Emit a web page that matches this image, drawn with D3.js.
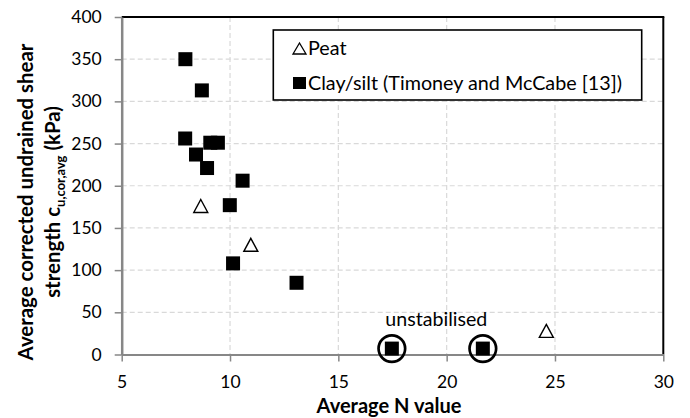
<!DOCTYPE html>
<html>
<head>
<meta charset="utf-8">
<script src="https://cdn.jsdelivr.net/npm/d3@7"></script>
<style>
  html, body { margin: 0; padding: 0; background: #fff; }
  svg { display: block; font-family: Lato, "Liberation Sans", Arial, sans-serif; }
</style>
</head>
<body>
<svg id="chart" width="690" height="418"></svg>
<script>
// ---- data ----
const clayX = [7.94, 8.70, 7.93, 9.09, 9.44, 8.43, 8.94, 10.58, 9.99, 10.14, 13.07, 17.47, 21.67];
const clayY = [350, 313, 256, 251, 251, 237, 221, 206, 177, 108, 85, 7, 7];
const peatX = [8.65, 10.96, 24.6];
const peatY = [176, 130, 28];
const unstabX = [17.47, 21.67];
const unstabY = [7, 7];
const xTicks = [5, 10, 15, 20, 25, 30];
const yTicks = [0, 50, 100, 150, 200, 250, 300, 350, 400];
const seriesNames = ["Peat", "Clay/silt (Timoney and McCabe [13])"];
const annotation = "unstabilised";
const xTitle = "Average N value";
const yTitle1 = "Average corrected undrained shear";

// ---- layout ----
const L = 121.7, R = 663.3, T = 17, B = 354.5;
const svg = d3.select("#chart");
const x = d3.scaleLinear().domain([5, 30]).range([L, R]);
const y = d3.scaleLinear().domain([0, 400]).range([B, T]);
const axisGray = "#878787";

function fit(sel, target) {
  const w = sel.node().getComputedTextLength();
  const fs = parseFloat(sel.attr("font-size") || 16);
  sel.attr("font-size", (fs * target / w).toFixed(2));
}

// gridlines
const grid = svg.append("g");
grid.selectAll("line.v").data(xTicks.filter(t => t > 5 && t < 30)).enter().append("line")
  .attr("x1", d => x(d)).attr("x2", d => x(d)).attr("y1", T).attr("y2", B)
  .attr("stroke", "#d9d9d9").attr("stroke-width", 1.2).attr("stroke-dasharray", "5,3");
grid.selectAll("line.h").data(yTicks.filter(t => t > 0 && t < 400)).enter().append("line")
  .attr("x1", L).attr("x2", R).attr("y1", d => y(d)).attr("y2", d => y(d))
  .attr("stroke", "#d9d9d9").attr("stroke-width", 1.2).attr("stroke-dasharray", "5,3");

// top & right border (black)
svg.append("line").attr("x1", L).attr("x2", R + 1).attr("y1", T).attr("y2", T)
  .attr("stroke", "#000").attr("stroke-width", 2);
svg.append("line").attr("x1", R).attr("x2", R).attr("y1", T).attr("y2", B)
  .attr("stroke", "#000").attr("stroke-width", 2);

// axes
const yAxis = svg.append("g").attr("transform", `translate(${L},0)`)
  .call(d3.axisLeft(y).tickValues(yTicks).tickSize(7).tickSizeOuter(0).tickPadding(13));
const xAxis = svg.append("g").attr("transform", `translate(0,${B})`)
  .call(d3.axisBottom(x).tickValues(xTicks).tickSize(7).tickSizeOuter(0).tickPadding(14));
yAxis.select(".domain").attr("stroke", axisGray).attr("stroke-width", 2.5);
xAxis.select(".domain").attr("stroke", axisGray).attr("stroke-width", 2);
svg.selectAll(".tick line").attr("stroke", axisGray).attr("stroke-width", 1.5);
svg.selectAll(".tick text").attr("font-family", "Lato, 'Liberation Sans', sans-serif")
  .attr("font-size", 17.5).attr("fill", "#000");

// markers
const sq = 14;
svg.append("g").selectAll("rect").data(clayX.map((v, i) => [v, clayY[i]])).enter().append("rect")
  .attr("x", d => x(d[0]) - sq / 2).attr("y", d => y(d[1]) - sq / 2)
  .attr("width", sq).attr("height", sq).attr("fill", "#000");

function tri(cx, cy, w, h) {
  return `M${cx},${cy - h / 2}L${cx + w / 2},${cy + h / 2}L${cx - w / 2},${cy + h / 2}Z`;
}
svg.append("g").selectAll("path").data(peatX.map((v, i) => [v, peatY[i]])).enter().append("path")
  .attr("d", d => tri(x(d[0]), y(d[1]), 14, 13))
  .attr("fill", "#fff").attr("stroke", "#000").attr("stroke-width", 1.4);

// circles around unstabilised points
svg.append("g").selectAll("circle").data(unstabX.map((v, i) => [v, unstabY[i]])).enter().append("circle")
  .attr("cx", d => x(d[0])).attr("cy", d => y(d[1]))
  .attr("r", 13.3).attr("fill", "none").attr("stroke", "#000").attr("stroke-width", 2.7);

const ann = svg.append("text").attr("x", d3.mean(unstabX.map(x)) - 1).attr("y", 326)
  .attr("text-anchor", "middle").attr("font-size", 17.5).text(annotation);
fit(ann, 102);

// legend
const lg = svg.append("g");
lg.append("rect").attr("x", 273.3).attr("y", 30).attr("width", 368.4).attr("height", 70)
  .attr("fill", "#fff").attr("stroke", "#000").attr("stroke-width", 1.6);
lg.append("path").attr("d", tri(299.5, 48.5, 13, 11)).attr("fill", "#fff").attr("stroke", "#000").attr("stroke-width", 1.3);
lg.append("rect").attr("x", 293).attr("y", 77).attr("width", 13).attr("height", 12).attr("fill", "#000");
const lt1 = lg.append("text").attr("x", 308).attr("y", 55).attr("font-size", 18.5).text(seriesNames[0]);
const lt2 = lg.append("text").attr("x", 308).attr("y", 90).attr("font-size", 18.5).text(seriesNames[1]);
fit(lt2, 314);
lt1.attr("font-size", lt2.attr("font-size"));

// axis titles
const xt = svg.append("text").attr("x", 389).attr("y", 413).attr("text-anchor", "middle")
  .attr("font-weight", "bold").attr("font-size", 18).text(xTitle);
fit(xt, 145);

const yt = svg.append("g").attr("transform", "translate(0,202) rotate(-90)")
  .attr("font-weight", "bold").attr("text-anchor", "middle");
const y1 = yt.append("text").attr("x", 0).attr("y", 33).attr("font-size", 18).text(yTitle1);
fit(y1, 317);
const l2 = yt.append("text").attr("x", 0).attr("y", 60).attr("font-size", y1.attr("font-size"));
l2.append("tspan").text("strength  c");
l2.append("tspan").attr("font-size", 13).attr("dy", 5).text("u,cor,avg");
l2.append("tspan").attr("dy", -5).text(" (kPa)");
</script>
</body>
</html>
